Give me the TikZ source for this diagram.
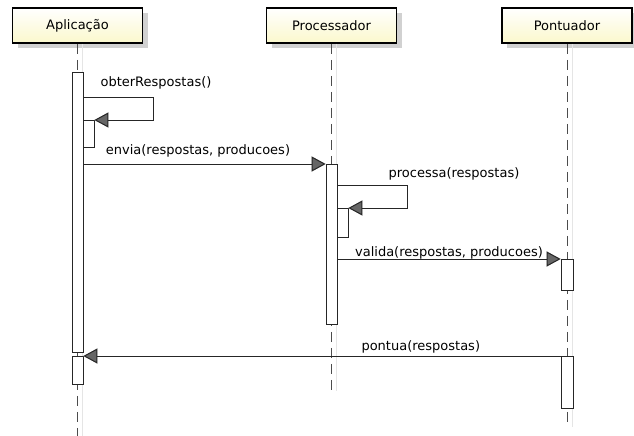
\documentclass[tikz,border=0pt]{standalone}
\usepackage{fontspec}
\setmainfont{DejaVu Sans}
\usetikzlibrary{arrows.meta,shadows}

\begin{document}
\begin{tikzpicture}[x=1pt, y=-1pt, font=\fontsize{13}{15}\selectfont,
    head/.style = {draw, line width=1.6pt, minimum width=130pt, minimum height=35pt,
        top color=white, bottom color={rgb,255:red,251;green,248;blue,204},
        drop shadow={shadow xshift=5pt, shadow yshift=-5pt, fill=black!18, opacity=1}},
    bar/.style = {draw=black!85, line width=0.8pt, fill=white, minimum width=11pt,
        inner sep=0pt, anchor=north},
    life/.style = {draw=black!70, line width=0.9pt, dash pattern=on 10pt off 6pt},
    lifeshadow/.style = {draw=black!10, line width=0.8pt},
    msg/.style = {draw=black!85, line width=1pt,
        -{Triangle[length=14pt, width=15pt, fill=black!60]}},
    msgshadow/.style = {draw=black!15, line width=1pt,
        -{Triangle[length=14pt, width=15pt, fill=black!15]}, shift={(3,5)}}]

    \useasboundingbox (0,0) rectangle (634,436);

    \node[head] (apl) at (77.5,25.5) {Aplicação};
    \node[head] (proc) at (331.5,25.5) {Processador};
    \node[head] (pont) at (567,25.5) {Pontuador};

    \coordinate (aplend) at (77.5,436);
    \coordinate (procend) at (331.5,391);
    \coordinate (pontend) at (567,427);

    \draw[lifeshadow] ([xshift=5pt]apl.south) -- ([xshift=5pt]aplend);
    \draw[lifeshadow] ([xshift=5pt]proc.south) -- ([xshift=5pt]procend);
    \draw[lifeshadow] ([xshift=5pt]pont.south) -- ([xshift=5pt]pontend);
    \draw[life] (apl.south) -- (aplend);
    \draw[life] (proc.south) -- (procend);
    \draw[life] (pont.south) -- (pontend);

    \node[bar, minimum height=280pt] (a1) at (77.5,72) {};
    \node[bar, minimum height=28pt] (a2) at (77.5,356) {};
    \node[bar, minimum height=27pt] (an) at (88.5,120) {};
    \node[bar, minimum height=160pt] (p1) at (331.5,164) {};
    \node[bar, minimum height=29pt] (pn) at (342.5,208) {};
    \node[bar, minimum height=31pt, minimum width=12pt] (t1) at (567,259) {};
    \node[bar, minimum height=52pt, minimum width=12pt] (t2) at (567,356) {};

    \coordinate (obt) at (153,97);
    \coordinate (pro) at (407,185);

    \draw[msgshadow] (a1.east |- obt) -- (obt) |- (an.north east);
    \draw[msgshadow] (a1.east |- p1.north west) -- (p1.north west);
    \draw[msgshadow] (p1.east |- pro) -- (pro) |- (pn.north east);
    \draw[msgshadow] (p1.east |- t1.north west) -- (t1.north west);
    \draw[msgshadow] (t2.north west) -- (a2.north east);

    \draw[msg] (a1.east |- obt) -- (obt) |- (an.north east);
    \node (lobt) at (156,83) {obterRespostas()};
    \draw[msg] (a1.east |- p1.north west) -- node[pos=0.473, above=3pt]{envia(respostas, producoes)} (p1.north west);
    \draw[msg] (p1.east |- pro) -- (pro) |- (pn.north east);
    \node (lpro) at (454,174) {processa(respostas)};
    \draw[msg] (p1.east |- t1.north west) -- node[midway, above, yshift=-4pt]{valida(respostas, producoes)} (t1.north west);
    \draw[msg] (t2.north west) -- node[pos=0.293, above, yshift=-1pt]{pontua(respostas)} (a2.north east);

\end{tikzpicture}
\end{document}
